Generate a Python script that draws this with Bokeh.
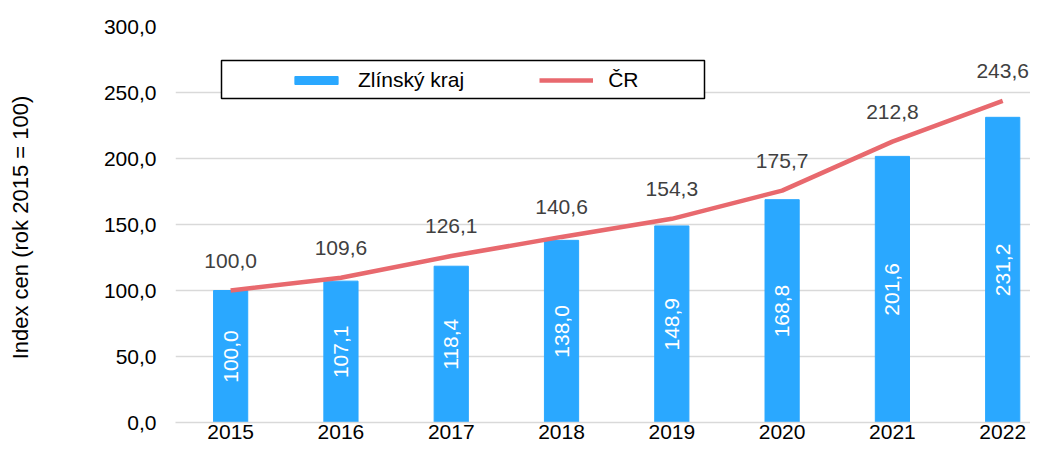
from bokeh.plotting import figure
from bokeh.models import (ColumnDataSource, Range1d, FixedTicker, Legend, LegendItem,
                          BoxAnnotation)
from bokeh.embed import file_html
from bokeh.resources import INLINE
from bokeh.core.properties import value

years = ["2015", "2016", "2017", "2018", "2019", "2020", "2021", "2022"]
zlinsky = [100.0, 107.1, 118.4, 138.0, 148.9, 168.8, 201.6, 231.2]
cr = [100.0, 109.6, 126.1, 140.6, 154.3, 175.7, 212.8, 243.6]
y_ticks = [0, 50, 100, 150, 200, 250, 300]

FONT = "Liberation Sans"
BAR = "#2AA8FF"
LINE = "#E8696E"
FS = "21px"

def fmt(v):
    return f"{v:.1f}".replace(".", ",")

idx = list(range(len(years)))
src = ColumnDataSource(dict(
    x=idx, z=zlinsky, cr=cr,
    zmid=[v / 2 for v in zlinsky],
    zlab=[fmt(v) for v in zlinsky],
    crlab=[fmt(v) for v in cr],
))

p = figure(width=1030, height=446, output_backend="svg", toolbar_location=None,
           x_range=Range1d(-0.5, 7.252), y_range=Range1d(0, 300),
           min_border_left=175, min_border_right=0, min_border_top=26,
           min_border_bottom=24)
p.outline_line_color = None
p.background_fill_color = "white"
p.border_fill_color = "white"

bars = p.vbar(x="x", top="z", width=0.31, source=src, fill_color=BAR, line_color=BAR)
line = p.line(x="x", y="cr", source=src, line_color=LINE, line_width=4.5)

p.text(x="x", y="zmid", text="zlab", source=src, angle=1.5708,
       text_align="center", text_baseline="middle", text_color="white",
       text_font=value(FONT), text_font_size=FS)
p.text(x="x", y="cr", text="crlab", source=src, y_offset=-30,
       text_align="center", text_baseline="middle", text_color="#404040",
       text_font=value(FONT), text_font_size=FS)

# axes
p.xgrid.grid_line_color = None
p.ygrid.grid_line_color = "#D9D9D9"
p.ygrid.grid_line_width = 1.5
p.ygrid.ticker = FixedTicker(ticks=y_ticks)

xa = p.xaxis[0]
xa.ticker = FixedTicker(ticks=idx)
xa.major_label_overrides = {i: y for i, y in enumerate(years)}
xa.axis_line_color = "#D9D9D9"
xa.axis_line_width = 1.5
xa.major_tick_line_color = None
xa.minor_tick_line_color = None
xa.major_tick_in = 0
xa.major_tick_out = 0
xa.major_label_standoff = 2
xa.major_label_text_font = FONT
xa.major_label_text_font_size = FS
xa.major_label_text_color = "#000000"

ya = p.yaxis[0]
ya.ticker = FixedTicker(ticks=y_ticks)
ya.major_label_overrides = {t: fmt(t) for t in y_ticks}
ya.axis_line_color = None
ya.major_tick_line_color = None
ya.minor_tick_line_color = None
ya.major_tick_in = 0
ya.major_tick_out = 0
ya.major_label_standoff = 19
ya.major_label_text_font = FONT
ya.major_label_text_font_size = FS
ya.major_label_text_color = "#000000"
ya.axis_label = "Index cen  (rok 2015 = 100)"
ya.axis_label_text_font = FONT
ya.axis_label_text_font_size = "22px"
ya.axis_label_text_font_style = "normal"
ya.axis_label_text_color = "#000000"
ya.axis_label_standoff = 68

# legend box
box = BoxAnnotation(left=221, right=704, top=60, bottom=98,
                    left_units="canvas", right_units="canvas",
                    top_units="canvas", bottom_units="canvas",
                    fill_color="white", fill_alpha=1.0,
                    line_color="black", line_width=1.5, line_alpha=1.0)
p.add_layout(box)

legend = Legend(items=[LegendItem(label="Zlínský kraj", renderers=[bars]),
                       LegendItem(label="ČR", renderers=[line])],
                orientation="horizontal", location=(114, 330),
                padding=0, margin=0, spacing=75,
                glyph_width=54, glyph_height=10, label_height=20,
                label_standoff=15,
                label_text_font=FONT, label_text_font_size=FS,
                label_text_color="#000000",
                border_line_color=None, background_fill_alpha=0)
p.add_layout(legend)

open("out.html", "w").write(file_html(p, INLINE))
